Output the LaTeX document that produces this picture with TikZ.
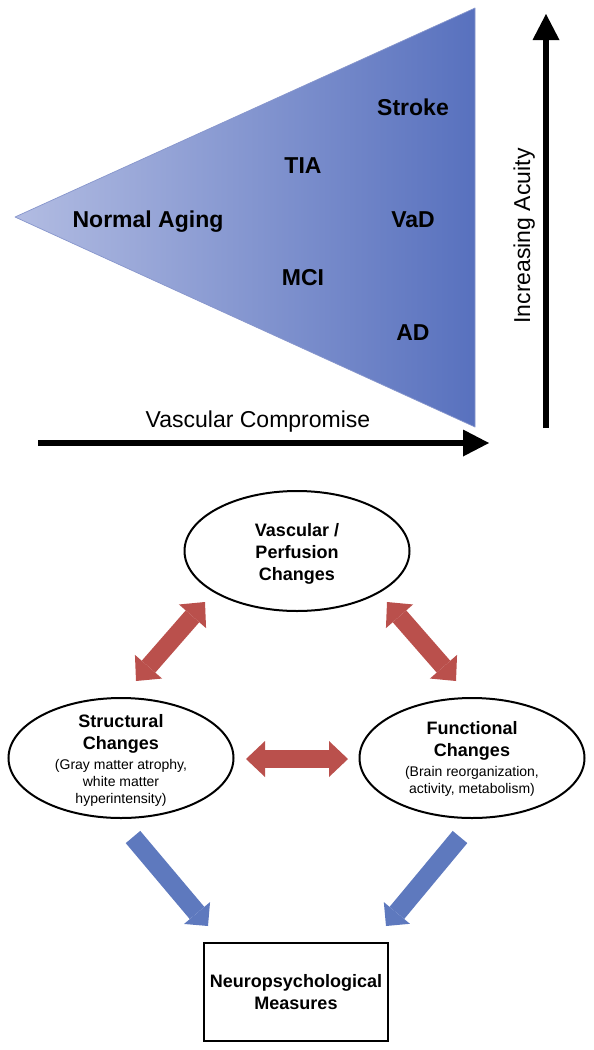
\documentclass[tikz,border=0pt]{standalone}
\usepackage{fontspec}
\setmainfont{Liberation Sans}
\usetikzlibrary{arrows.meta,shapes.geometric}
\definecolor{triL}{RGB}{178,188,226}
\definecolor{triR}{RGB}{88,113,190}
\definecolor{triEdge}{RGB}{135,150,204}
\definecolor{redA}{RGB}{186,80,76}
\definecolor{blueA}{RGB}{94,121,190}
\begin{document}
\begin{tikzpicture}[x=1pt,y=-1pt,
  bigbold/.style={font=\fontsize{23}{27}\selectfont\bfseries, inner sep=0pt},
  bigreg/.style={font=\fontsize{23}{27}\selectfont, inner sep=0pt},
  blackarrow/.style={line width=6pt, -{Triangle[length=26pt,width=27pt,line width=0pt]}},
  oval/.style={ellipse, draw, line width=2pt, minimum width=225pt, minimum height=120pt, inner sep=0pt},
  ovalbold/.style={align=center, font=\fontsize{18}{22}\selectfont\bfseries, inner sep=0pt},
  ovaltext/.style={align=center, font=\fontsize{14}{17}\selectfont, inner sep=0pt},
  measbox/.style={draw, line width=2.5pt, minimum width=184pt, minimum height=98pt, align=center, font=\fontsize{18}{22}\selectfont\bfseries},
  redarrow/.style={draw=redA, line width=18pt, {Triangle[length=19pt,width=36pt,line width=0pt]}-{Triangle[length=19pt,width=36pt,line width=0pt]}},
  bluearrow/.style={draw=blueA, line width=19pt, -{Triangle[length=17pt,width=34pt,line width=0pt]}}
]
\useasboundingbox (0,0) rectangle (594,1050);
% triangle
\coordinate (apex) at (15,217);
\coordinate (tr) at (475,8);
\coordinate (br) at (475,427);
\shade[left color=triL,right color=triR] (apex) -- (tr) -- (br) -- cycle;
\draw[triEdge,line width=0.7pt,line join=round] (apex) -- (tr) -- (br) -- cycle;
\node[bigbold,anchor=base] (normal) at (148,227) {Normal Aging};
\node[bigbold,anchor=base] (tia) at (303,173) {TIA};
\node[bigbold,anchor=base] (mci) at (303,285) {MCI};
\node[bigbold,anchor=base] (stroke) at (413,115) {Stroke};
\node[bigbold,anchor=base] (vad) at (413,227) {VaD};
\node[bigbold,anchor=base] (ad) at (413,340) {AD};
% axes
\node[bigreg,anchor=base] (vc) at (258,427) {Vascular Compromise};
\node[bigreg,anchor=base,rotate=90] (ia) at (530,236) {Increasing Acuity};
\coordinate (h0) at (38,443);
\coordinate (h1) at (489,443);
\draw[blackarrow] (h0) -- (h1);
\coordinate (v0) at (546,428);
\coordinate (v1) at (546,14);
\draw[blackarrow] (v0) -- (v1);
% ellipses
\node[oval] (vasc) at (297,551) {};
\node[ovalbold] (vasctxt) at (297,554) {Vascular /\\Perfusion\\Changes};
\node[oval] (struct) at (121,758) {};
\node[ovaltext] (structtxt) at (121,760) {{\fontsize{18}{22}\selectfont\bfseries Structural}\\[5pt]{\fontsize{18}{22}\selectfont\bfseries Changes}\\[3pt](Gray matter atrophy,\\white matter\\hyperintensity)};
\node[oval] (func) at (472,758) {};
\node[ovaltext] (functxt) at (472,759) {{\fontsize{18}{22}\selectfont\bfseries Functional}\\[5pt]{\fontsize{18}{22}\selectfont\bfseries Changes}\\[3pt](Brain reorganization,\\activity, metabolism)};
\node[measbox] (neuro) at (296,992) {Neuropsychological\\Measures};
% red double arrows
\coordinate (ra1) at (136,681);
\coordinate (ra2) at (205,602);
\draw[redarrow] (ra1) -- (ra2);
\coordinate (rb1) at (387,602);
\coordinate (rb2) at (456,681);
\draw[redarrow] (rb1) -- (rb2);
\coordinate (rc1) at (246,759);
\coordinate (rc2) at (348,759);
\draw[redarrow] (rc1) -- (rc2);
% blue arrows
\coordinate (ba1) at (133,837);
\coordinate (ba2) at (208,926);
\draw[bluearrow] (ba1) -- (ba2);
\coordinate (bb1) at (460,837);
\coordinate (bb2) at (386,926);
\draw[bluearrow] (bb1) -- (bb2);
\end{tikzpicture}
\end{document}
